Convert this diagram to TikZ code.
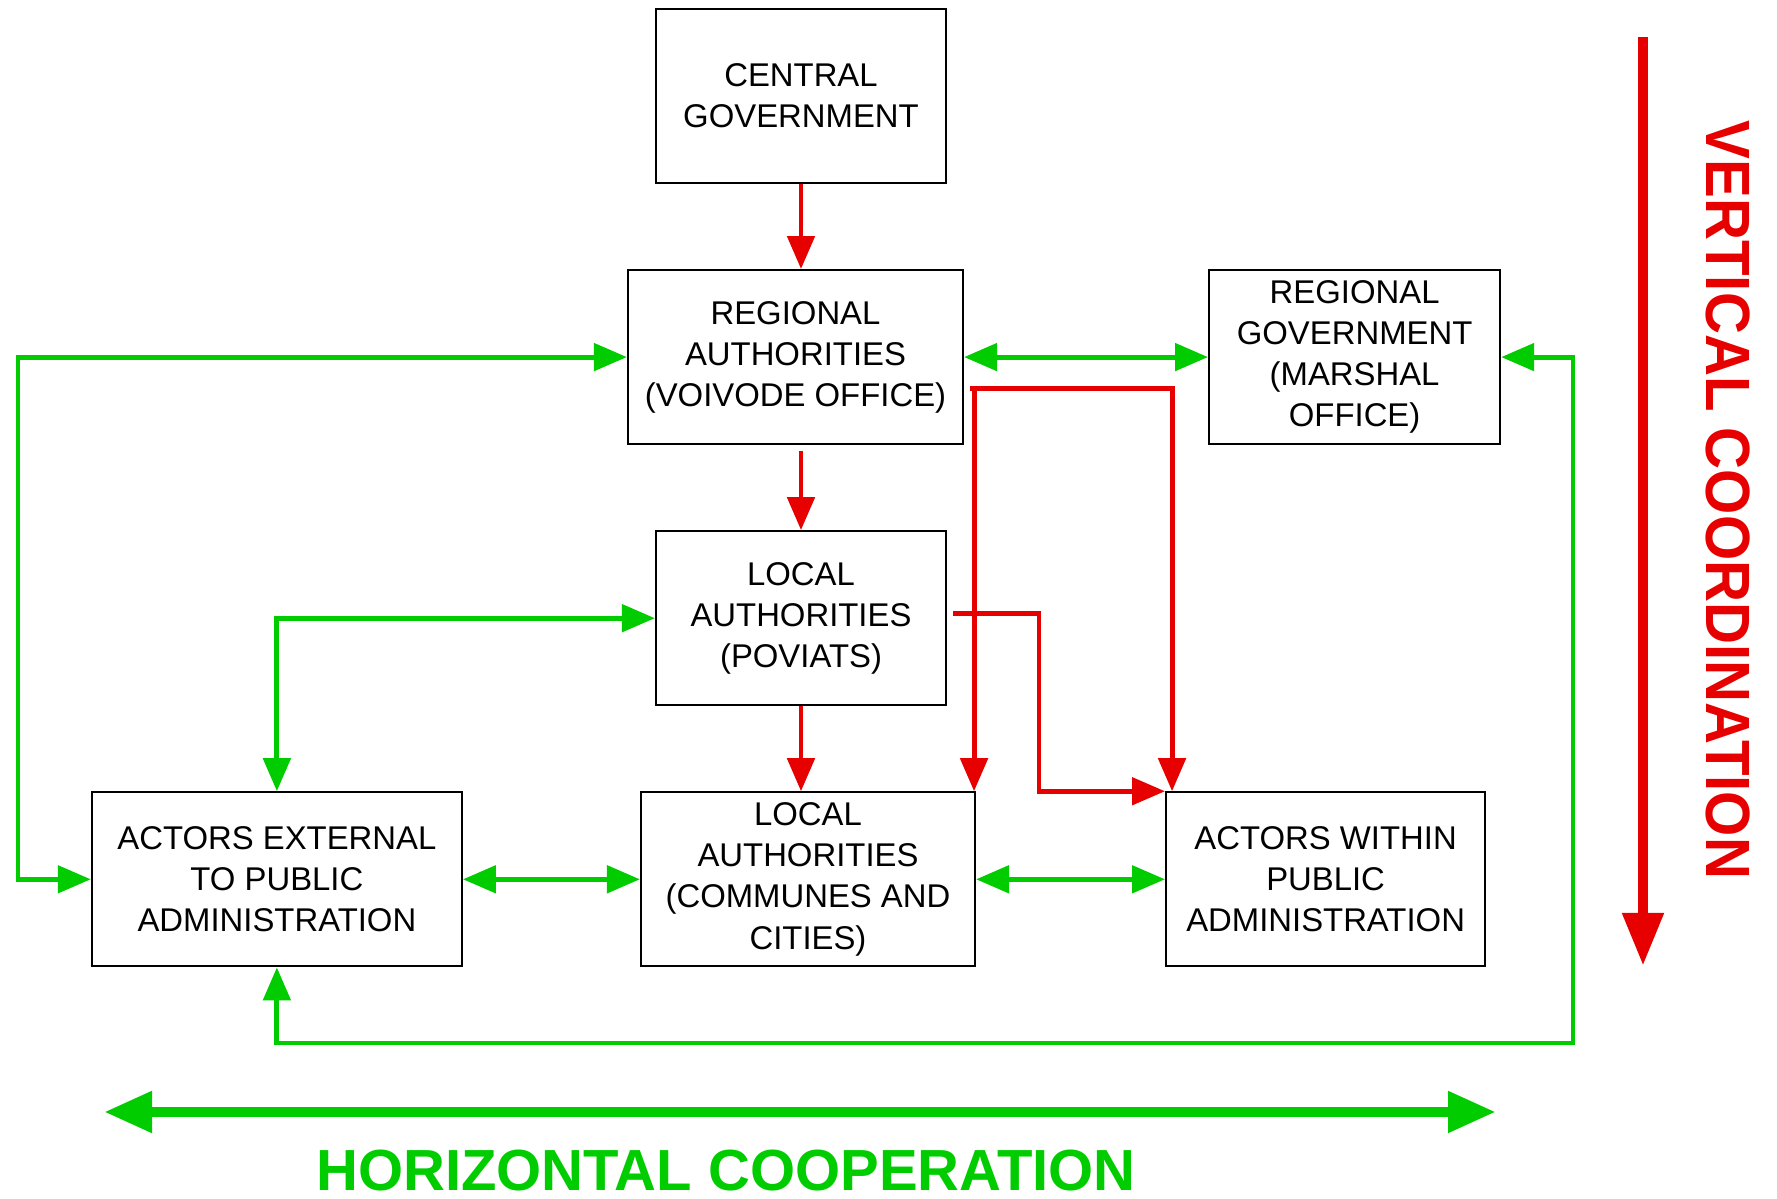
\documentclass[tikz,border=0pt]{standalone}
\usepackage{fontspec}
\usepackage{graphicx}
\setmainfont{Liberation Sans}
\usetikzlibrary{arrows.meta,positioning}
\definecolor{vred}{HTML}{E60000}
\definecolor{hgreen}{HTML}{00CC00}

\begin{document}
\begin{tikzpicture}[node distance=8.5mm,
    box/.style={draw=black,line width=0.6pt,align=center,inner sep=1pt,minimum height=17.4mm,font=\fontsize{9.35}{11.7}\selectfont},
    redarrow/.style={-{Triangle[length=3.3mm,width=2.7mm]},line width=1.4pt,vred},
    greenarrow/.style={{Triangle[length=3.3mm,width=2.7mm]}-{Triangle[length=3.3mm,width=2.7mm]},line width=1.4pt,hgreen}]
    \useasboundingbox (0,0) rectangle (17.77,11.99);
    \node[box,minimum width=29mm] (central) at (8.01,11.03) {CENTRAL\\GOVERNMENT};
    \node[box,minimum width=33.5mm,below=of central,xshift=-0.55mm] (voivode) {REGIONAL\\AUTHORITIES\\(VOIVODE OFFICE)};
    \node[box,minimum width=29.1mm,right=24.4mm of voivode] (marshal) {REGIONAL\\GOVERNMENT\\(MARSHAL\\OFFICE)};
    \node[box,minimum width=29mm,below=of voivode,xshift=0.55mm] (poviats) {LOCAL\\AUTHORITIES\\(POVIATS)};
    \node[box,minimum width=33.4mm,below=of poviats,xshift=0.7mm] (communes) {LOCAL\\AUTHORITIES\\(COMMUNES AND\\CITIES)};
    \node[box,minimum width=37mm,left=17.7mm of communes] (external) {ACTORS EXTERNAL\\TO PUBLIC\\ADMINISTRATION};
    \node[box,minimum width=31.9mm,right=18.9mm of communes] (within) {ACTORS WITHIN\\PUBLIC\\ADMINISTRATION};
    % vertical links
    \draw[redarrow] (central) -- (central |- voivode.north);
    \draw[redarrow] ([yshift=-0.6mm]poviats.north |- voivode.south) -- (poviats.north);
    \draw[redarrow] (poviats.south) -- (poviats.south |- communes.north);
    \coordinate (vsplit) at ([xshift=0.6mm,yshift=-3.1mm]voivode.east);
    \coordinate (psplit) at ([xshift=0.6mm,yshift=0.5mm]poviats.east);
    \draw[redarrow] (vsplit) -| ([xshift=0.7mm]within.north west);
    \draw[redarrow] (vsplit) -| ([xshift=-0.2mm]communes.north east);
    \draw[redarrow] (psplit) -| (10.39,0 |- within.north) -- (within.north west);
    % horizontal links
    \draw[greenarrow] (voivode.east) -- (marshal.west);
    \draw[greenarrow] (voivode.west) -| (0.18,0 |- external.west) -- (external.west);
    \draw[greenarrow] (marshal.east) -| (15.73,1.56) -| (external.south);
    \draw[greenarrow] (poviats.west) -| (external.north);
    \draw[greenarrow] (external) -- (communes);
    \draw[greenarrow] (communes) -- (within);
    % the two big arrows
    \coordinate (vtop) at (16.43,11.62);
    \coordinate (vbot) at (16.43,2.33);
    \draw[line width=3.1pt,vred,-{Triangle[length=5.3mm,width=3.9mm]}] (vtop) -- (vbot);
    \node[vred,rotate=-90,font=\bfseries\fontsize{17.8}{20}\selectfont] (vlabel) at (17.28,6.99) {\scalebox{0.93}[1]{VERTICAL COORDINATION}};
    \coordinate (hleft) at (1.04,0.87);
    \coordinate (hright) at (14.96,0.87);
    \draw[line width=3.1pt,hgreen,{Triangle[length=4.8mm,width=3.9mm]}-{Triangle[length=4.8mm,width=3.9mm]}] (hleft) -- (hright);
    \node[hgreen,font=\bfseries\fontsize{16.5}{19}\selectfont] (hlabel) at (7.26,0.28) {HORIZONTAL COOPERATION};
  \end{tikzpicture}
\end{document}
